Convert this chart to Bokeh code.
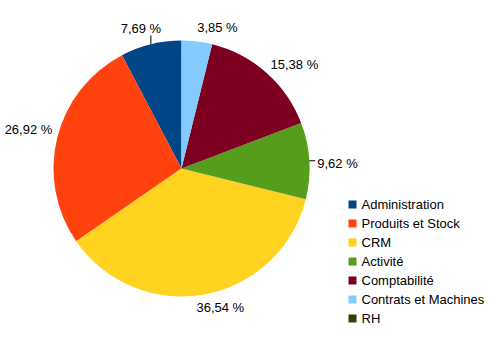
import math
from bokeh.plotting import figure
from bokeh.models import Range1d
from bokeh.core.properties import value
from bokeh.embed import file_html
from bokeh.resources import INLINE

# ---- data ----
categories = ["Administration", "Produits et Stock", "CRM", "Activité",
              "Comptabilité", "Contrats et Machines", "RH"]
counts = [4, 14, 19, 5, 8, 2, 0]
colors = ["#004586", "#ff420e", "#ffd320", "#579d1c", "#7e0021", "#83caff", "#314004"]

# ---- layout ----
W, H = 498, 339
CX, CY, R = 181, H - 168, 128
FONT = value("Liberation Sans")
FS = "13px"
# label nudges (pixels: dx right, dy up) and leader-line flags
label_nudge = [(-9, 4), (-1, 7), (15, -2), (4, -3), (1.5, -2), (20, 2), (0, 0)]
leader = [True, False, False, True, False, False, False]

p = figure(width=W, height=H, output_backend="svg", toolbar_location=None,
           x_range=Range1d(0, W), y_range=Range1d(0, H), min_border=0)
p.axis.visible = False
p.grid.visible = False
p.outline_line_color = None
p.background_fill_color = "white"
p.border_fill_color = "white"

total = sum(counts)
starts, ends, mids = [], [], []
acc = 0
for c in counts:
    a0 = math.pi / 2 + 2 * math.pi * acc / total
    acc += c
    a1 = math.pi / 2 + 2 * math.pi * acc / total
    starts.append(a0); ends.append(a1); mids.append((a0 + a1) / 2)

sel = [i for i, c in enumerate(counts) if c > 0]
p.wedge(x=CX, y=CY, radius=R,
        start_angle=[starts[i] for i in sel], end_angle=[ends[i] for i in sel],
        fill_color=[colors[i] for i in sel], line_color=None, direction="anticlock")

# labels
for i in sel:
    m = mids[i]
    c, s = math.cos(m), math.sin(m)
    ax = CX + (R + 4) * c + label_nudge[i][0]
    ay = CY + (R + 4) * s + label_nudge[i][1]
    align = "left" if c > 0.3 else ("right" if c < -0.3 else "center")
    base = "bottom" if s > 0.3 else ("top" if s < -0.3 else "middle")
    pct = 100 * counts[i] / total
    txt = f"{pct:.2f}".replace(".", ",") + " %"
    p.text(x=[ax], y=[ay], text=[txt], text_font=FONT, text_font_size=FS,
           text_align=align, text_baseline=base, text_color="black")
    if leader[i]:
        ex, ey = CX + R * c, CY + R * s
        if abs(c) < 0.5:
            p.segment(x0=[ex], y0=[ey], x1=[ex], y1=[ay + (1 if s > 0 else -1)],
                      line_color="black", line_width=1)
        else:
            p.segment(x0=[ex], y0=[ey], x1=[ax - 2], y1=[ey],
                      line_color="black", line_width=1)

# legend
LX, LY0, DY, SQ = 352, H - 204, 19, 8
for k, name in enumerate(categories):
    y = LY0 - k * DY
    p.rect(x=[LX], y=[y], width=SQ, height=SQ, fill_color=colors[k], line_color=None)
    p.text(x=[LX + 9], y=[y], text=[name], text_font=FONT, text_font_size=FS,
           text_align="left", text_baseline="middle", text_color="black")

open("out.html", "w").write(file_html(p, INLINE))
